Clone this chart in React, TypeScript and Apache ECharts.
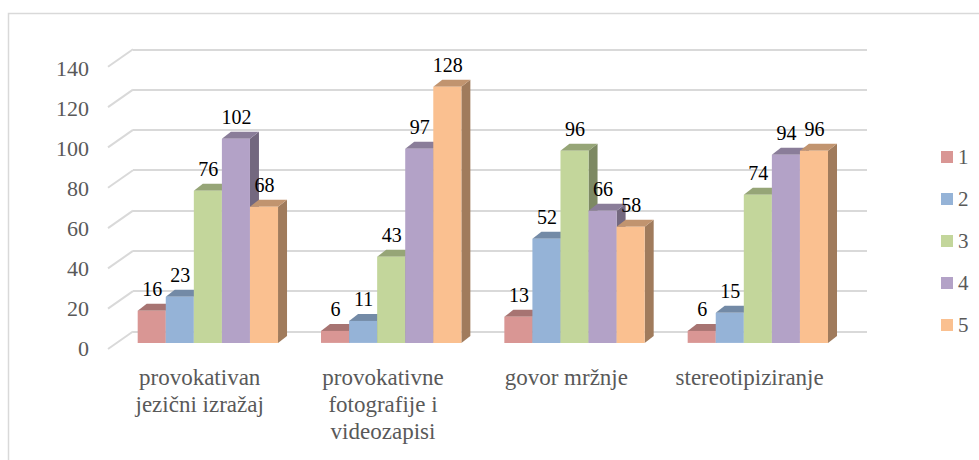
import React, { useEffect, useRef } from "react";
import * as echarts from "echarts";

const CATEGORIES = [
  "provokativan\njezični izražaj",
  "provokativne\nfotografije i\nvideozapisi",
  "govor mržnje",
  "stereotipiziranje",
];
const SERIES_NAMES = ["1", "2", "3", "4", "5"];
const S1 = [16, 6, 13, 6];
const S2 = [23, 11, 52, 15];
const S3 = [76, 43, 96, 74];
const S4 = [102, 97, 66, 94];
const S5 = [68, 128, 58, 96];
const SERIES_VALUES = [S1, S2, S3, S4, S5];
const Y_TICKS = [0, 20, 40, 60, 80, 100, 120, 140];

const FRONT = ["#D99694", "#95B3D7", "#C3D69B", "#B3A2C7", "#FAC090"];

function shade(hex: string, f: number) {
  const n = parseInt(hex.slice(1), 16);
  const r = Math.round(((n >> 16) & 255) * f);
  const g = Math.round(((n >> 8) & 255) * f);
  const b = Math.round((n & 255) * f);
  return `rgb(${r},${g},${b})`;
}

const FONT = "Liberation Serif";
const BAR_FRAC = 0.1531;
const DX = 9;
const DY = -7;

export default function App() {
  const ref = useRef<HTMLDivElement>(null);
  useEffect(() => {
    if (!ref.current) return;
    const chart = echarts.init(ref.current, undefined, { renderer: "svg" });

    const barSeries = SERIES_VALUES.map((vals, si) => ({
      type: "custom",
      name: SERIES_NAMES[si],
      xAxisIndex: 0,
      yAxisIndex: 0,
      z: 3,
      itemStyle: { color: FRONT[si] },
      data: vals.map((v, ci) => [ci, v]),
      renderItem: (params: any, api: any) => {
        const cat = api.value(0);
        const val = api.value(1);
        const base = api.coord([cat, 0]);
        const top = api.coord([cat, val]);
        const band = api.size([1, 0])[0];
        const bw = band * BAR_FRAC;
        const x0 = base[0] - 2.5 * bw + si * bw;
        const x1 = x0 + bw;
        const yb = base[1];
        const yt = top[1];
        return {
          type: "group",
          children: [
            {
              type: "polygon",
              shape: { points: [[x1, yb], [x1 + DX, yb + DY], [x1 + DX, yt + DY], [x1, yt]] },
              style: { fill: shade(FRONT[si], 0.64) },
            },
            {
              type: "polygon",
              shape: { points: [[x0, yt], [x1, yt], [x1 + DX, yt + DY], [x0 + DX, yt + DY]] },
              style: { fill: shade(FRONT[si], 0.77) },
            },
            {
              type: "rect",
              shape: { x: x0, y: yt, width: bw, height: yb - yt },
              style: { fill: FRONT[si] },
            },
          ],
        };
      },
    }));

    const labelSeries = SERIES_VALUES.map((vals, si) => ({
      type: "custom",
      name: "lbl" + si,
      xAxisIndex: 0,
      yAxisIndex: 0,
      z: 5,
      data: vals.map((v, ci) => [ci, v]),
      renderItem: (params: any, api: any) => {
        const cat = api.value(0);
        const val = api.value(1);
        const base = api.coord([cat, 0]);
        const top = api.coord([cat, val]);
        const band = api.size([1, 0])[0];
        const bw = band * BAR_FRAC;
        const x0 = base[0] - 2.5 * bw + si * bw;
        return {
          type: "text",
          style: {
            text: String(val),
            x: x0 + bw / 2 + 0.5,
            y: top[1] - 21.5,
            align: "center",
            verticalAlign: "middle",
            fontSize: 20,
            fontFamily: FONT,
            fill: "#000000",
          },
        };
      },
    }));

    const diagSeries = {
      type: "custom",
      name: "diag",
      xAxisIndex: 2,
      yAxisIndex: 2,
      z: 1,
      data: Y_TICKS.map((v) => [0, v]),
      renderItem: (params: any, api: any) => {
        const p = api.coord([0, api.value(1)]);
        const x = params.coordSys.x;
        return {
          type: "line",
          shape: { x1: x, y1: p[1], x2: x - 25, y2: p[1] + 17.5 },
          style: { stroke: "#D9D9D9", lineWidth: 2 },
        };
      },
    };

    const option: any = {
      animation: false,
      backgroundColor: "#ffffff",
      textStyle: { fontFamily: FONT },
      grid: [
        { left: 116.2, top: 62.6, width: 733.3, height: 280.3 },
        { left: 108, top: 68.3, width: 733.3, height: 280 },
        { left: 133, top: 49.3, width: 734, height: 282.2 },
      ],
      xAxis: [
        { type: "category", gridIndex: 0, data: CATEGORIES, show: false },
        {
          type: "category",
          gridIndex: 1,
          data: CATEGORIES,
          axisLine: { show: false },
          axisTick: { show: false },
          axisLabel: {
            interval: 0,
            margin: 16,
            fontSize: 23,
            lineHeight: 27,
            color: "#595959",
            fontFamily: FONT,
          },
        },
        { type: "category", gridIndex: 2, data: CATEGORIES, show: false },
      ],
      yAxis: [
        { type: "value", gridIndex: 0, min: 0, max: 140, interval: 20, show: false },
        {
          type: "value",
          gridIndex: 1,
          min: 0,
          max: 140,
          interval: 20,
          axisLine: { show: false },
          axisTick: { show: false },
          splitLine: { show: false },
          axisLabel: { margin: 19, fontSize: 22, color: "#595959", fontFamily: FONT },
        },
        {
          type: "value",
          gridIndex: 2,
          min: 0,
          max: 140,
          interval: 20,
          axisLine: { show: false },
          axisTick: { show: false },
          axisLabel: { show: false },
          splitLine: { show: true, lineStyle: { color: "#D9D9D9", width: 2 } },
        },
      ],
      legend: {
        orient: "vertical",
        left: 936,
        top: 141,
        itemWidth: 12,
        itemHeight: 12,
        itemGap: 20,
        textStyle: { fontSize: 21, color: "#595959", fontFamily: FONT, lineHeight: 22 },
        data: SERIES_NAMES.map((n, i) => ({ name: n, icon: "rect", itemStyle: { color: FRONT[i] } })),
      },
      graphic: [
        {
          type: "rect",
          shape: { x: 8.5, y: 13.5, width: 990, height: 470 },
          style: { fill: "none", stroke: "#D9D9D9", lineWidth: 1.5 },
          silent: true,
        },
      ],
      series: [diagSeries, ...barSeries, ...labelSeries],
    };
    chart.setOption(option);
    return () => chart.dispose();
  }, []);
  return (
    <div
      ref={ref}
      style={{ position: "fixed", left: 0, top: 0, width: 979, height: 460 }}
    />
  );
}
